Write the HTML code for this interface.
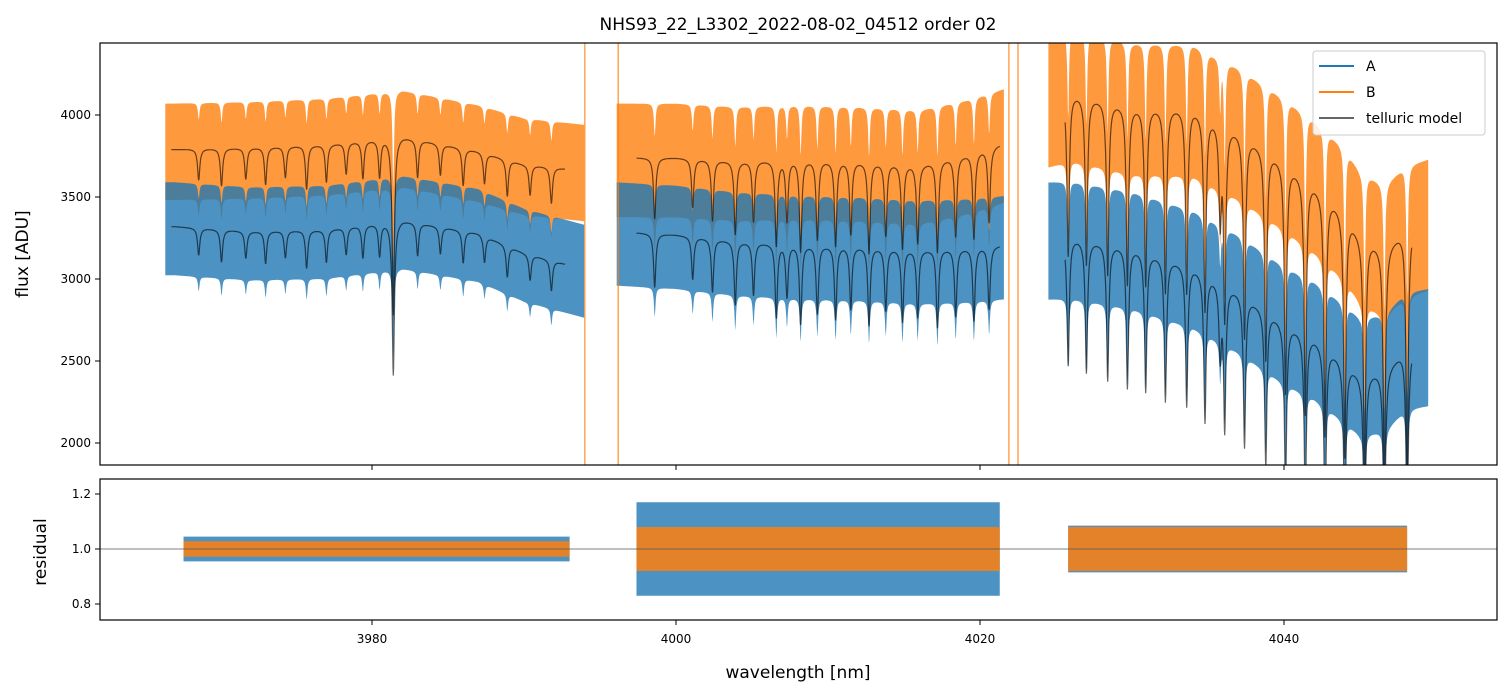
<!DOCTYPE html>
<html><head><meta charset="utf-8">
<style>
html,body{margin:0;padding:0;background:#fff;}
svg{display:block;font-family:"DejaVu Sans","Liberation Sans",sans-serif;}
</style></head>
<body>
<svg id="chart" width="1510" height="696" viewBox="0 0 1510 696">
<defs>
<clipPath id="ctop"><rect x="100" y="43" width="1397" height="422"/></clipPath>
<clipPath id="cbot"><rect x="100" y="479" width="1397" height="141"/></clipPath>
</defs>
<text x="798" y="30" text-anchor="middle" font-size="17" fill="#000">NHS93_22_L3302_2022-08-02_04512  order 02</text>
<g id="topg" clip-path="url(#ctop)"></g>
<g id="botg" clip-path="url(#cbot)"></g>
<rect x="100" y="43" width="1397" height="422" fill="none" stroke="#000" stroke-width="1.2"/>
<rect x="100" y="479" width="1397" height="141" fill="none" stroke="#000" stroke-width="1.2"/>
<g id="axes"></g>
<text x="28" y="254" text-anchor="middle" font-size="17" transform="rotate(-90 28 254)">flux [ADU]</text>
<text x="46" y="552" text-anchor="middle" font-size="17" transform="rotate(-90 46 552)">residual</text>
<text x="798" y="678" text-anchor="middle" font-size="17">wavelength [nm]</text>
<g>
<rect x="1313" y="51" width="172" height="84" rx="3" fill="#fff" fill-opacity="0.85" stroke="#ccc"/>
<line x1="1319" y1="66" x2="1354" y2="66" stroke="#1f77b4" stroke-width="2"/>
<text x="1366" y="71" font-size="14">A</text>
<line x1="1319" y1="92" x2="1354" y2="92" stroke="#ff7f0e" stroke-width="2"/>
<text x="1366" y="97" font-size="14">B</text>
<line x1="1319" y1="118" x2="1354" y2="118" stroke="#666" stroke-width="2"/>
<text x="1366" y="123" font-size="14">telluric model</text>
</g>
</svg>
<script>
// ---- data ----
const segStart = [3966.4, 3996.1, 4024.5];
const segEnd = [3994.0, 4021.6, 4049.5];
const modelStart = [3966.8, 3997.4, 4025.6];
const modelEnd = [3992.7, 4021.3, 4048.4];
const contW1 = [3967, 3972, 3977, 3982, 3987, 3990, 3994];
const contB1 = [3790, 3800, 3820, 3870, 3780, 3700, 3660];
const contA1 = [3320, 3290, 3300, 3360, 3280, 3160, 3060];
const contW2 = [3996, 4000, 4004, 4008, 4012, 4016, 4019, 4022];
const contB2 = [3740, 3740, 3720, 3730, 3720, 3700, 3760, 3840];
const contA2 = [3290, 3270, 3230, 3210, 3200, 3180, 3190, 3210];
const contW3 = [4024.5, 4026, 4030, 4034, 4037, 4040, 4042, 4044, 4045, 4046.6, 4048, 4049.5];
const contB3 = [4100, 4140, 4060, 4050, 3910, 3725, 3585, 3420, 3280, 3195, 3310, 3350];
const contA3 = [3250, 3256, 3195, 3080, 2930, 2740, 2645, 2505, 2425, 2445, 2580, 2600];
const dipW = [3968.6,3970.1,3971.7,3973.0,3974.3,3975.7,3977.0,3978.3,3979.4,3980.5,3981.4,3983.0,3984.5,3986.0,3987.4,3988.9,3990.4,3991.8,
  3998.6,4001.1,4002.4,4003.9,4005.1,4006.6,4007.3,4008.2,4009.3,4010.5,4011.5,4012.7,4013.8,4014.9,4015.9,4017.2,4018.4,4019.6,4020.6,
  4025.8,4027.0,4028.4,4029.7,4030.9,4032.2,4033.6,4034.8,4035.8,4036.1,4037.4,4038.8,4040.1,4041.4,4042.7,4044.0,4045.3,4046.6,4048.1];
const dipD = [0.05,0.06,0.05,0.06,0.05,0.07,0.06,0.05,0.06,0.06,0.28,0.06,0.05,0.06,0.05,0.06,0.05,0.06,
  0.10,0.08,0.10,0.12,0.10,0.14,0.10,0.15,0.13,0.14,0.12,0.15,0.12,0.14,0.13,0.15,0.13,0.14,0.12,
  0.24,0.25,0.26,0.27,0.27,0.28,0.28,0.30,0.15,0.30,0.32,0.34,0.38,0.40,0.42,0.44,0.45,0.45,0.45];
const noiseB = [280, 330, 380];
const noiseA = [270, 300, 340];
const resStart = [3967.6, 3997.4, 4025.8];
const resEnd = [3993.0, 4021.3, 4048.1];
const resHalfA = [0.045, 0.17, 0.085];
const resHalfB = [0.028, 0.08, 0.08];
const xTicks = [3980, 4000, 4020, 4040];
const yTicks = [2000, 2500, 3000, 3500, 4000];
const rTicks = [0.8, 1.0, 1.2];
// ---- axes functions ----
const X = w => 676 + (w - 4000) * 15.2;
const Y = f => 115 + (4000 - f) * 0.164;
const R = r => 549 - (r - 1.0) * 275;
const NS = 'http://www.w3.org/2000/svg';
function mk(tag, attrs, parent){const e=document.createElementNS(NS,tag);for(const k in attrs)e.setAttribute(k,attrs[k]);parent.appendChild(e);return e;}
function interp(xs, ys, x){if(x<=xs[0])return ys[0];for(let i=1;i<xs.length;i++){if(x<=xs[i]){const t=(x-xs[i-1])/(xs[i]-xs[i-1]);return ys[i-1]+t*(ys[i]-ys[i-1]);}}return ys[ys.length-1];}
function trans(w, wid, k){let t=1;for(let i=0;i<dipW.length;i++){const d=(w-dipW[i])/wid;t*=1-k*dipD[i]/(1+d*d);}return t;}
const contW=[contW1,contW2,contW3], contB=[contB1,contB2,contB3], contA=[contA1,contA2,contA3];
const topG = document.getElementById('topg'), botG = document.getElementById('botg');
function bandPath(s, cont, half, w0, w1){
  let up=[], lo=[];
  for(let w=w0; w<=w1; w+=0.03){const m=interp(contW[s],cont,w)*trans(w,0.06,0.55);up.push(X(w).toFixed(1)+','+Y(m+half).toFixed(1));lo.push(X(w).toFixed(1)+','+Y(m-half*1.1).toFixed(1));}
  return 'M'+up.join('L')+'L'+lo.reverse().join('L')+'Z';
}
function modelPath(s, cont){
  let p=[];for(let w=modelStart[s]; w<=modelEnd[s]; w+=0.02){p.push(X(w).toFixed(1)+','+Y(interp(contW[s],cont,w)*trans(w,0.09,1)).toFixed(1));}
  return 'M'+p.join('L');
}
for(let s=0;s<3;s++){
  const b=mk('path',{d:bandPath(s,contB[s],noiseB[s],segStart[s],segEnd[s]),fill:'#ff7f0e','fill-opacity':0.8},topG);
  
  
  const a=mk('path',{d:bandPath(s,contA[s],noiseA[s],segStart[s],segEnd[s]),fill:'#1f77b4','fill-opacity':0.8},topG);
  
  
}
for(let s=0;s<3;s++){
  for(const c of [contB[s],contA[s]]){
    const m=mk('path',{d:modelPath(s,c),fill:'none',stroke:'#000','stroke-opacity':0.6,'stroke-width':1.2},topG);
    
    
  }
}
for(const w of [3994.0, 3996.2, 4022.5, 4021.9]){
  const l=mk('line',{x1:X(w),x2:X(w),y1:43,y2:465,stroke:'#ff7f0e','stroke-width':1.5,'stroke-opacity':0.7},topG);
  
  
}
for(let s=0;s<3;s++){
  const a=mk('rect',{x:X(resStart[s]),width:X(resEnd[s])-X(resStart[s]),y:R(1+resHalfA[s]),height:R(1-resHalfA[s])-R(1+resHalfA[s]),fill:'#1f77b4','fill-opacity':0.8},botG);
  
  
  const b=mk('rect',{x:X(resStart[s]),width:X(resEnd[s])-X(resStart[s]),y:R(1+resHalfB[s]),height:R(1-resHalfB[s])-R(1+resHalfB[s]),fill:'#ff7f0e','fill-opacity':0.85},botG);
  
  
}
const ref=mk('line',{x1:100,x2:1497,y1:R(1),y2:R(1),stroke:'#555','stroke-width':0.8},botG);


const ax=document.getElementById('axes');
for(const t of xTicks){
  const l1=mk('line',{x1:X(t),x2:X(t),y1:465,y2:470,stroke:'#000'},ax);
  
  
  const l2=mk('line',{x1:X(t),x2:X(t),y1:620,y2:625,stroke:'#000'},ax);
  
  
  const tx=mk('text',{x:X(t),y:643,'text-anchor':'middle','font-size':12},ax);
  tx.textContent=t;
  
  
}
for(const t of yTicks){
  const l=mk('line',{x1:95,x2:100,y1:Y(t),y2:Y(t),stroke:'#000'},ax);
  
  
  const tx=mk('text',{x:91,y:Y(t)+4,'text-anchor':'end','font-size':12},ax);
  tx.textContent=t;
  
  
}
for(const t of rTicks){
  const l=mk('line',{x1:95,x2:100,y1:R(t),y2:R(t),stroke:'#000'},ax);
  
  
  const tx=mk('text',{x:91,y:R(t)+4,'text-anchor':'end','font-size':12},ax);
  tx.textContent=t.toFixed(1);
  
  
}
</script>
</body></html>
